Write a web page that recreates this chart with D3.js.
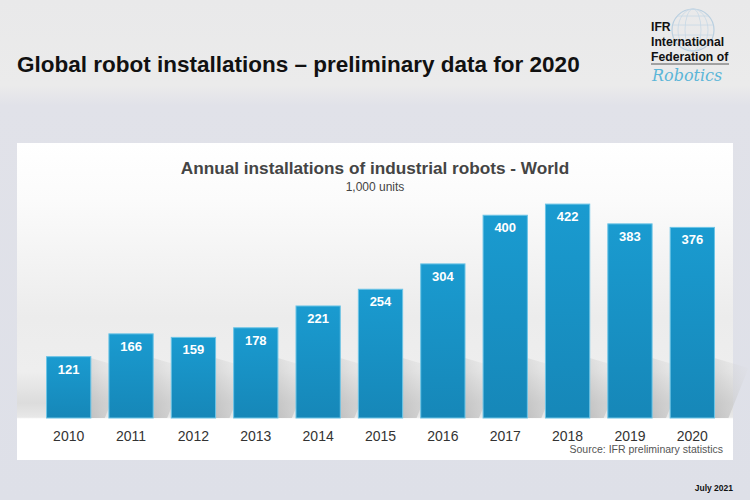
<!DOCTYPE html>
<html>
<head>
<meta charset="utf-8">
<script src="https://cdn.jsdelivr.net/npm/d3@7"></script>
<style>
  body { margin: 0; background: #e2e3e9; }
  svg { display: block; font-family: "Liberation Sans", Arial, sans-serif; }
</style>
</head>
<body>
<svg id="chart" width="750" height="500"></svg>
<script>
// data
const years = ["2010", "2011", "2012", "2013", "2014", "2015", "2016", "2017", "2018", "2019", "2020"];
const installs = [121, 166, 159, 178, 221, 254, 304, 400, 422, 383, 376];

const svg = d3.select('#chart');
const W = 750, H = 500;

const defs = svg.append('defs');
const bg = defs.append('linearGradient').attr('id', 'bg').attr('x1', 0).attr('y1', 0).attr('x2', 0).attr('y2', 1);
bg.append('stop').attr('offset', '0%').attr('stop-color', '#e9e9ea');
bg.append('stop').attr('offset', '17%').attr('stop-color', '#ebebeb');
bg.append('stop').attr('offset', '21%').attr('stop-color', '#e1e2e9');
bg.append('stop').attr('offset', '100%').attr('stop-color', '#dee0e8');

const panelG = defs.append('linearGradient').attr('id', 'panel').attr('x1', 0).attr('y1', 0).attr('x2', 0).attr('y2', 1);
panelG.append('stop').attr('offset', '0%').attr('stop-color', '#ffffff');
panelG.append('stop').attr('offset', '18%').attr('stop-color', '#fbfbfb');
panelG.append('stop').attr('offset', '55%').attr('stop-color', '#ececec');
panelG.append('stop').attr('offset', '72%').attr('stop-color', '#eeeeee');
panelG.append('stop').attr('offset', '82%').attr('stop-color', '#dcdcdc');
panelG.append('stop').attr('offset', '86.5%').attr('stop-color', '#e8e8e8');
panelG.append('stop').attr('offset', '87%').attr('stop-color', '#ffffff');
panelG.append('stop').attr('offset', '100%').attr('stop-color', '#ffffff');

const barG = defs.append('linearGradient').attr('id', 'bar').attr('x1', 0).attr('y1', 0).attr('x2', 0).attr('y2', 1);
barG.append('stop').attr('offset', '0%').attr('stop-color', '#1a9bd0');
barG.append('stop').attr('offset', '100%').attr('stop-color', '#1687b8');

const shadowG = defs.append('linearGradient').attr('id', 'shadow').attr('x1', 0).attr('y1', 1).attr('x2', 1).attr('y2', 0);
shadowG.append('stop').attr('offset', '0%').attr('stop-color', '#bdbdbd').attr('stop-opacity', 0.9);
shadowG.append('stop').attr('offset', '100%').attr('stop-color', '#d8d8d8').attr('stop-opacity', 0);

svg.append('rect').attr('width', W).attr('height', H).attr('fill', 'url(#bg)');

// header
svg.append('text')
    .attr('x', 17).attr('y', 72)
    .attr('font-size', 22.5).attr('font-weight', 'bold').attr('fill', '#111')
    .text('Global robot installations \u2013 preliminary data for 2020');

// logo
const logo = svg.append('g');
logo.append('circle').attr('cx', 693).attr('cy', 30).attr('r', 21)
    .attr('fill', 'none').attr('stroke', '#b9cfe0').attr('stroke-width', 1.2);
[-14, -5, 5, 14].forEach(dy => {
    const rr = Math.sqrt(21 * 21 - dy * dy);
    logo.append('line').attr('x1', 693 - rr).attr('x2', 693 + rr).attr('y1', 30 + dy).attr('y2', 30 + dy)
        .attr('stroke', '#c6d8e6').attr('stroke-width', 0.8);
});
[8, 15].forEach(rx => {
    logo.append('ellipse').attr('cx', 693).attr('cy', 30).attr('rx', rx).attr('ry', 21)
        .attr('fill', 'none').attr('stroke', '#c6d8e6').attr('stroke-width', 0.8);
});
const logoLines = ['IFR', 'International', 'Federation of'];
logo.selectAll('text.l').data(logoLines).enter().append('text')
    .attr('class', 'l')
    .attr('x', 651).attr('y', (d, i) => 31 + i * 15)
    .attr('font-size', 12.2).attr('font-weight', 'bold').attr('fill', '#111')
    .text(d => d);
logo.append('line').attr('x1', 651).attr('x2', 729).attr('y1', 64).attr('y2', 64)
    .attr('stroke', '#333').attr('stroke-width', 0.8);
logo.append('text')
    .attr('x', 652).attr('y', 81)
    .attr('font-size', 16).attr('font-style', 'italic').attr('fill', '#5bb6d8')
    .attr('font-family', '"DejaVu Serif", serif')
    .text('Robotics');

// chart panel
const panel = { x: 17, y: 143, w: 716, h: 317 };
svg.append('rect')
    .attr('x', panel.x).attr('y', panel.y).attr('width', panel.w).attr('height', panel.h)
    .attr('fill', 'url(#panel)');

svg.append('text')
    .attr('x', 375).attr('y', 174).attr('text-anchor', 'middle')
    .attr('font-size', 17.2).attr('font-weight', 'bold').attr('fill', '#444')
    .text('Annual installations of industrial robots - World');
svg.append('text')
    .attr('x', 375).attr('y', 191).attr('text-anchor', 'middle')
    .attr('font-size', 12).attr('fill', '#444')
    .text('1,000 units');

const x = d3.scaleBand().domain(years).range([37.5, 723.5]).paddingInner(0.29).paddingOuter(0.145);
const y = d3.scaleLinear().domain([0, 450]).range([418, 189.9]);

// diagonal shadows behind bars
svg.append('g').selectAll('path').data(years).enter().append('path')
    .attr('d', (d, i) => {
        const x0 = x(d) + x.bandwidth(), y0 = y(0), top = Math.max(y(installs[i]), y(0) - 60);
        return `M${x0},${y0}L${x0 + 14},${y0}L${x0 + 14 + 20},${top + 10}L${x0},${top}Z`;
    })
    .attr('fill', 'url(#shadow)');

svg.append('g').selectAll('rect').data(years).enter().append('rect')
    .attr('x', d => x(d))
    .attr('y', (d, i) => y(installs[i]))
    .attr('width', x.bandwidth())
    .attr('height', (d, i) => y(0) - y(installs[i]))
    .attr('fill', 'url(#bar)')
    .attr('stroke', '#6cc4e6').attr('stroke-width', 1);

svg.append('g').selectAll('text').data(years).enter().append('text')
    .attr('x', d => x(d) + x.bandwidth() / 2)
    .attr('y', (d, i) => y(installs[i]) + 17)
    .attr('text-anchor', 'middle')
    .attr('font-size', 13).attr('font-weight', 'bold').attr('fill', '#fff')
    .text((d, i) => installs[i]);

const xAxis = svg.append('g')
    .attr('transform', `translate(0,${y(0)})`)
    .call(d3.axisBottom(x).tickSize(0).tickPadding(13));
xAxis.select('.domain').remove();
xAxis.selectAll('text').attr('font-size', 14).attr('fill', '#333').attr('font-family', '"Liberation Sans", Arial, sans-serif');

svg.append('text')
    .attr('x', 723).attr('y', 453).attr('text-anchor', 'end')
    .attr('font-size', 10.5).attr('fill', '#555')
    .text('Source: IFR preliminary statistics');

svg.append('text')
    .attr('x', 733).attr('y', 491).attr('text-anchor', 'end')
    .attr('font-size', 8.5).attr('font-weight', 'bold').attr('fill', '#111')
    .text('July 2021');
</script>
</body>
</html>
